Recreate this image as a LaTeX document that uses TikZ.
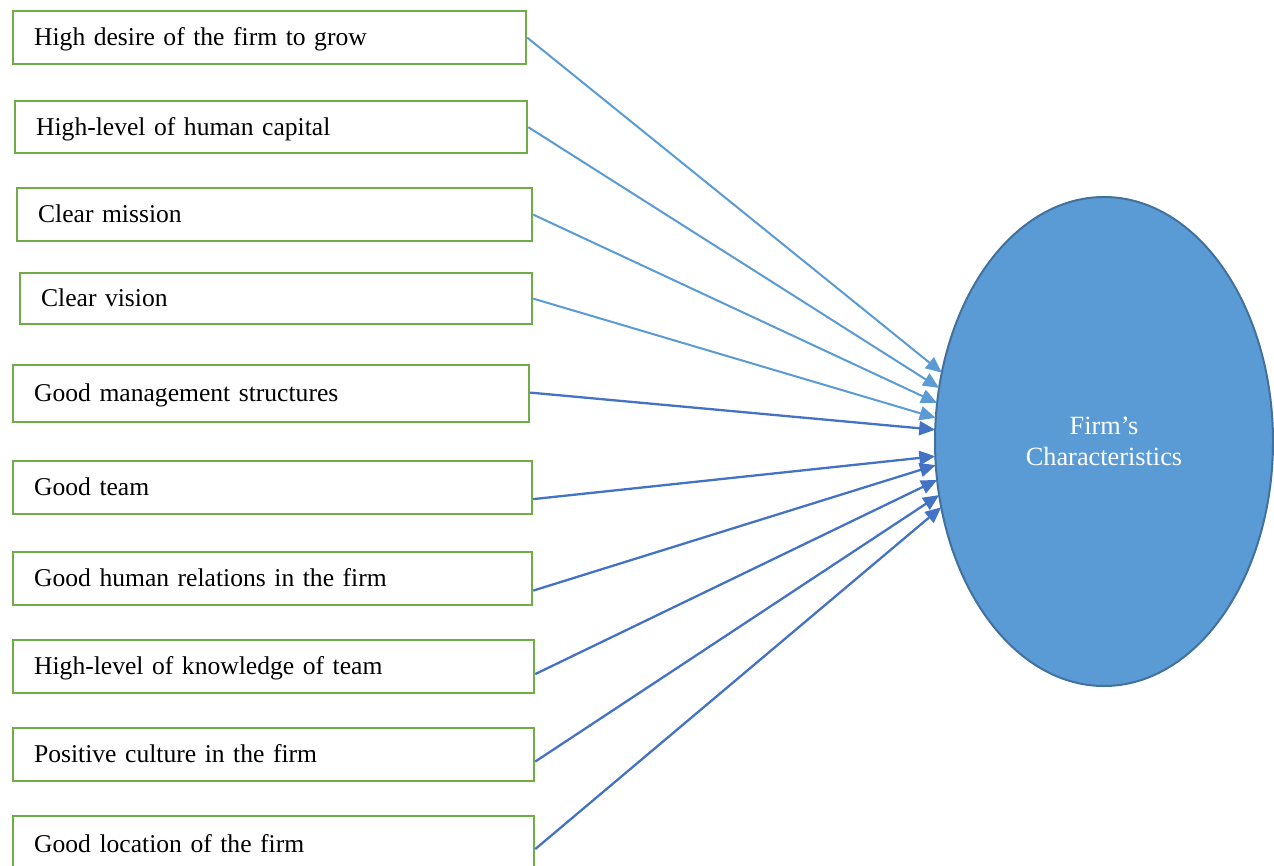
\documentclass[tikz,border=0pt]{standalone}
\usepackage{fontspec}
\setmainfont{Liberation Serif}[WordSpace=0.65]
\usepackage{tikz}
\usetikzlibrary{arrows.meta,shapes.geometric}
\definecolor{boxgreen}{HTML}{70AD47}
\definecolor{lightarrow}{HTML}{5B9BD5}
\definecolor{darkarrow}{HTML}{4472C4}
\definecolor{ovalfill}{HTML}{5B9BD5}
\definecolor{ovalline}{HTML}{41719C}

\begin{document}
\begin{tikzpicture}[x=1pt,y=-1pt,
   factor/.style={draw=boxgreen,line width=2.2pt,anchor=north west,
      font=\fontsize{25.6}{30}\selectfont,
      inner xsep=21pt,inner ysep=0pt,align=left,minimum height=53pt,
      text depth=2pt},
   upper/.style={draw=lightarrow,line width=2pt,
      -{Triangle[length=16pt,width=14pt]}},
   lower/.style={draw=darkarrow,line width=2.3pt,
      -{Triangle[length=16pt,width=14pt]}}]
\useasboundingbox (0,0) rectangle (1274,865);
\node[factor,text width=471pt] (grow) at (12,10) {High desire of the firm to grow};
\node[factor,text width=470pt,minimum height=52pt] (capital) at (14,100) {High-level of human capital};
\node[factor,text width=473pt] (mission) at (16,187) {Clear mission};
\node[factor,text width=470pt,minimum height=51pt] (vision) at (19,272) {Clear vision};
\node[factor,text width=474pt,minimum height=57pt] (structure) at (12,364) {Good management structures};
\node[factor,text width=477pt] (team) at (12,460) {Good team};
\node[factor,text width=477pt] (relations) at (12,551) {Good human relations in the firm};
\node[factor,text width=479pt] (knowledge) at (12,639) {High-level of knowledge of team};
\node[factor,text width=479pt] (culture) at (12,727) {Positive culture in the firm};
\node[factor,text width=479pt,minimum height=56pt] (location) at (12,815) {Good location of the firm};

\node[ellipse,draw=ovalline,line width=2pt,fill=ovalfill,text=white,
   font=\fontsize{26.3}{31}\selectfont,
   minimum width=338pt,minimum height=489pt,inner sep=0pt,outer sep=0pt,
   align=center] (firm) at (1104,441.5) {Firm’s\\Characteristics};

\draw[upper] (grow.east) -- (firm.157);
\draw[upper] (capital.east) -- (firm.162.5);
\draw[upper] (mission.east) -- (firm.167);
\draw[upper] (vision.east) -- (firm.172.4);
\draw[lower] ([yshift=1pt]structure.east) -- (firm.176.8);
\draw[lower] ([yshift=-11.5pt]team.east) -- (firm.185.6);
\draw[lower] ([yshift=-12pt]relations.east) -- (firm.188.6);
\draw[lower] ([yshift=-7.5pt]knowledge.east) -- (firm.193.5);
\draw[lower] ([yshift=-7pt]culture.east) -- (firm.198.3);
\draw[lower] ([yshift=-5pt]location.east) -- (firm.202.9);
\end{tikzpicture}
\end{document}
